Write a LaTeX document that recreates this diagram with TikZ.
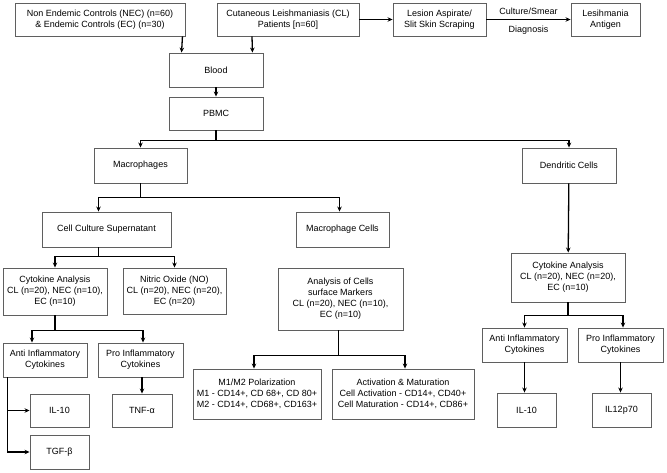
\documentclass[tikz,border=0pt]{standalone}
\usepackage{fontspec}
\setmainfont{Liberation Sans}
\usetikzlibrary{arrows.meta}
\definecolor{boxgray}{RGB}{95,95,95}
\tikzset{
  box/.style = {rectangle, draw=boxgray, line width=0.9pt, align=center, inner sep=1pt, font=\fontsize{9}{11}\selectfont},
  arr/.style = {-{Stealth[length=5pt,width=4.5pt]}, line width=1.3pt, black},
  lnk/.style = {line width=1.3pt, black},
  lbl/.style = {font=\fontsize{9}{11}\selectfont},
}
\begin{document}
\begin{tikzpicture}[x=1pt, y=-1pt]
  \useasboundingbox (0,0) rectangle (667,473);

  % top row
  \node[box, minimum width=170, minimum height=33] (nec) at (100,19.5) {Non Endemic Controls (NEC) (n=60)\\\& Endemic Controls (EC) (n=30)};
  \node[box, minimum width=142, minimum height=33] (cl) at (288,19.5) {Cutaneous Leishmaniasis (CL)\\Patients [n=60]};
  \node[box, minimum width=93, minimum height=33] (lesion) at (439.5,19.5) {Lesion Aspirate/\\Slit Skin Scraping};
  \node[box, minimum width=69, minimum height=33] (antigen) at (605.5,19.5) {Lesihmania\\Antigen};

  \node[box, minimum width=94, minimum height=34] (blood) at (216,70) {Blood};
  \node[box, minimum width=94, minimum height=33] (pbmc) at (216,113.5) {PBMC};

  \node[box, minimum width=93, minimum height=35] (macro) at (140.5,165.5) {Macrophages};
  \node[box, minimum width=94, minimum height=35] (dendritic) at (569,165.5) {Dendritic Cells};

  \node[box, minimum width=129, minimum height=35] (ccs) at (106.5,229.5) {Cell Culture Supernatant};
  \node[box, minimum width=93, minimum height=35] (mcells) at (342.5,229.5) {Macrophage Cells};

  % analyses
  \node[box, minimum width=104, minimum height=47] (cytoL) at (55,291.5) {Cytokine Analysis\\CL (n=20), NEC (n=10),\\EC (n=10)};
  \node[box, minimum width=103, minimum height=46] (no) at (174.5,291) {Nitric Oxide (NO)\\CL (n=20), NEC (n=20),\\EC (n=20)};
  \node[box, minimum width=125, minimum height=62] (markers) at (340.5,299) {Analysis of Cells\\surface Markers\\CL (n=20), NEC (n=10),\\EC (n=10)};
  \node[box, minimum width=114, minimum height=49] (cytoR) at (568,277.5) {Cytokine Analysis\\CL (n=20), NEC (n=20),\\EC (n=10)};

  % cytokine groups
  \node[box, minimum width=84, minimum height=34] (antiL) at (45,360) {Anti Inflammatory\\Cytokines};
  \node[box, minimum width=85, minimum height=34] (proL) at (140.5,360) {Pro Inflammatory\\Cytokines};
  \node[box, minimum width=85, minimum height=34] (antiR) at (524.5,345) {Anti Inflammatory\\Cytokines};
  \node[box, minimum width=85, minimum height=34] (proR) at (620.5,345) {Pro Inflammatory\\Cytokines};

  % leaves
  \node[box, minimum width=59, minimum height=33] (il10L) at (59.5,410.5) {IL-10};
  \node[box, minimum width=59, minimum height=34] (tgf) at (59.5,452) {TGF-β};
  \node[box, minimum width=60, minimum height=33] (tnf) at (142,410.5) {TNF-α};
  \node[box, minimum width=128, minimum height=50] (m1m2) at (257,394) {M1/M2 Polarization\\M1 - CD14+, CD 68+, CD 80+\\M2 - CD14+, CD68+, CD163+};
  \node[box, minimum width=142, minimum height=50] (activ) at (403,394) {Activation \& Maturation\\Cell Activation - CD14+, CD40+\\Cell Maturation - CD14+, CD86+};
  \node[box, minimum width=59, minimum height=34] (il10R) at (526.5,410) {IL-10};
  \node[box, minimum width=59, minimum height=34] (il12) at (621.5,410) {IL12p70};

  % connectors
  \draw[arr] ([xshift=-3]nec.south east) -- ([xshift=13]blood.north west);
  \draw[arr] ([xshift=-36]cl.south) -- ([xshift=-11]blood.north east);
  \draw[arr] (cl.east) -- (lesion.west);
  \draw[arr] (lesion.east) -- node[lbl, above=1pt] {Culture/Smear} node[lbl, below=2pt] {Diagnosis} (antigen.west);
  \draw[arr] (blood) -- (pbmc);

  \coordinate (jpbmc) at ([yshift=-10]pbmc.south);
  \draw[lnk] (pbmc.south) -- (jpbmc);
  \draw[arr] (jpbmc) -| (macro.north);
  \draw[arr] (jpbmc) -| (dendritic.north);

  \coordinate (jmacro) at ([yshift=-14]macro.south);
  \draw[lnk] (macro.south) -- (jmacro);
  \draw[arr] (jmacro) -| ([xshift=-8]ccs.north);
  \draw[arr] (jmacro) -| ([xshift=-3]mcells.north);

  \draw[arr] (dendritic) -- (cytoR);

  \coordinate (jccs) at ([xshift=-8,yshift=-9]ccs.south);
  \draw[lnk] ([xshift=-8]ccs.south) -- (jccs);
  \draw[arr] (jccs) -| (cytoL.north);
  \draw[arr] (jccs) -| (no.north);

  \coordinate (jmark) at ([xshift=-2,yshift=-25]markers.south);
  \draw[lnk] ([xshift=-2]markers.south) -- (jmark);
  \draw[arr] (jmark) -| ([xshift=-3]m1m2.north);
  \draw[arr] (jmark) -| ([xshift=2]activ.north);

  \coordinate (jcytoL) at ([yshift=-15]cytoL.south);
  \draw[lnk] (cytoL.south) -- (jcytoL);
  \draw[arr] (jcytoL) -| ([xshift=-13]antiL.north);
  \draw[arr] (jcytoL) -| ([xshift=2.5]proL.north);

  \draw[arr] ([xshift=5]antiL.south west) |- (il10L.west);
  \draw[arr] ([xshift=5]antiL.south west) |- (tgf.west);
  \draw[arr] (proL.south -| tnf.north) -- (tnf.north);

  \coordinate (jcytoR) at ([yshift=-13]cytoR.south);
  \draw[lnk] (cytoR.south) -- (jcytoR);
  \draw[arr] (jcytoR) -| (antiR.north);
  \draw[arr] (jcytoR) -| ([xshift=2.5]proR.north);

  \draw[arr] (antiR.south) -- (antiR.south |- il10R.north);
  \draw[arr] (proR.south) -- (proR.south |- il12.north);
\end{tikzpicture}
\end{document}
